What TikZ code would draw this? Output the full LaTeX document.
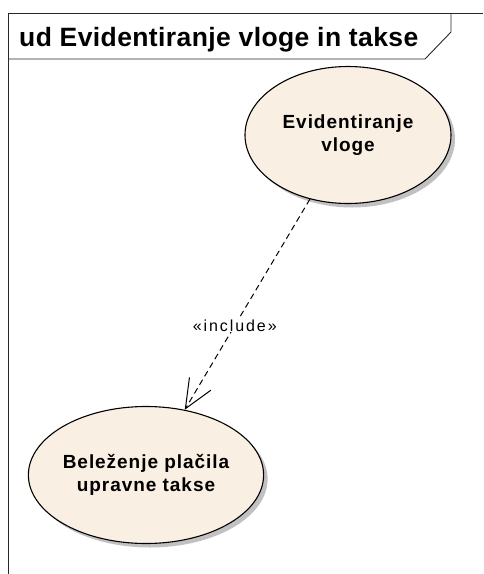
\documentclass[tikz,border=0pt]{standalone}
\usepackage{fontspec}
\setmainfont{Liberation Sans}
\newfontfamily\titlefont[LetterSpace=1.5]{Liberation Sans}
\newfontfamily\ucfont[LetterSpace=5]{Liberation Sans}
\newfontfamily\stereofont[LetterSpace=12]{Liberation Sans}
\usetikzlibrary{shapes.geometric,shadows,arrows.meta}
\definecolor{ucfill}{RGB}{249,239,226}
\definecolor{framecol}{RGB}{40,40,40}
\tikzset{
  usecase/.style={ellipse, draw=black, line width=1.1pt, fill=ucfill,
    minimum width=206pt, minimum height=137pt, inner sep=0pt, align=center,
    font=\ucfont\bfseries\fontsize{19}{23.3}\selectfont,
    drop shadow={shadow xshift=4pt, shadow yshift=-4pt, fill=black!30, opacity=0.8}},
  framestroke/.style={draw=framecol, line width=0.9pt},
  includes/.style={dashed, dash pattern=on 6pt off 4pt, line width=1pt,
    -{Straight Barb[length=29pt,width=25pt,line width=1pt]}},
  stereo/.style={fill=white, inner sep=1pt, font=\stereofont\fontsize{16}{18}\selectfont}
}
\begin{document}
\begin{tikzpicture}[x=1pt,y=-1pt]
  \useasboundingbox (0,0) rectangle (483,574);
  % diagram frame with its name tab
  \draw[framestroke] (483,13) -- (8,13) -- (8,574);
  \draw[framestroke] (451,13) -- (451,32) -- (425,59) -- (8,59);
  \node[anchor=base west, inner sep=0pt, font=\titlefont\bfseries\fontsize{26.5}{30}\selectfont]
    (title) at (19,46.7) {ud Evidentiranje vloge in takse};
  % use cases
  \node[usecase] (vloga) at (348,135) {Evidentiranje\\vloge};
  \node[usecase] (taksa) at (146,475) {Beleženje plačila\\upravne takse};
  % include dependency
  \draw[includes] (vloga) -- node[stereo, pos=0.6] (inc) {«include»} (taksa);
\end{tikzpicture}
\end{document}
